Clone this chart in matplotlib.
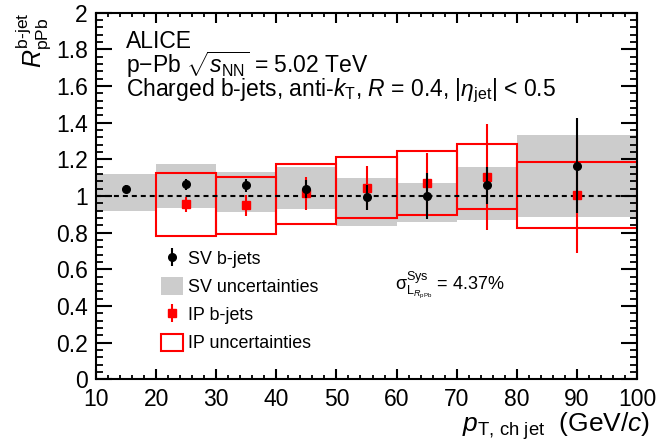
import numpy as np
import matplotlib
matplotlib.use("Agg")
import matplotlib.pyplot as plt
from matplotlib.patches import Patch
from matplotlib.ticker import MultipleLocator

plt.rcParams['font.family'] = ['Liberation Sans', 'DejaVu Sans']
plt.rcParams['mathtext.fontset'] = 'custom'
plt.rcParams['mathtext.rm'] = 'Liberation Sans'
plt.rcParams['mathtext.it'] = 'Liberation Sans:italic'
plt.rcParams['mathtext.bf'] = 'Liberation Sans:bold'

# pT bins (GeV/c)
sv_lo = [10, 20, 30, 40, 50, 60, 70, 80]
sv_hi = [20, 30, 40, 50, 60, 70, 80, 100]
sv_x = [15, 25, 35, 45, 55, 65, 75, 90]
sv_y = [1.040, 1.065, 1.058, 1.037, 0.993, 0.998, 1.058, 1.165]
sv_err = [0.022, 0.030, 0.035, 0.050, 0.067, 0.125, 0.100, 0.260]
sv_sys_lo = [0.919, 0.936, 0.914, 0.930, 0.836, 0.860, 0.869, 0.884]
sv_sys_hi = [1.120, 1.173, 1.129, 1.160, 1.100, 1.069, 1.160, 1.333]

ip_lo = [20, 30, 40, 50, 60, 70, 80]
ip_hi = [30, 40, 50, 60, 70, 80, 100]
ip_x = [25, 35, 45, 55, 65, 75, 90]
ip_y = [0.955, 0.949, 1.015, 1.042, 1.069, 1.104, 1.004]
ip_err = [0.040, 0.057, 0.090, 0.120, 0.165, 0.290, 0.315]
ip_sys_lo = [0.782, 0.793, 0.849, 0.878, 0.896, 0.929, 0.827]
ip_sys_hi = [1.124, 1.105, 1.173, 1.214, 1.245, 1.282, 1.186]

grey = '#cccccc'
red = '#ff0000'

fig = plt.figure(figsize=(6.59, 4.48), dpi=100)
ax = fig.add_axes([0.1457, 0.1533, 0.8209, 0.8184])

# SV systematic boxes
sv_w = np.array(sv_hi) - np.array(sv_lo)
ax.bar(sv_lo, np.array(sv_sys_hi) - np.array(sv_sys_lo), bottom=sv_sys_lo,
       width=sv_w, align='edge', color=grey, linewidth=0, zorder=1)

# IP systematic boxes
ip_w = np.array(ip_hi) - np.array(ip_lo)
ax.bar(ip_lo, np.array(ip_sys_hi) - np.array(ip_sys_lo), bottom=ip_sys_lo,
       width=ip_w, align='edge', facecolor='none', edgecolor=red,
       linewidth=1.5, zorder=2)

ax.axhline(1.0, color='k', lw=1.5, ls=(0, (2.4, 1.9)), zorder=3)

sv = ax.errorbar(sv_x, sv_y, yerr=sv_err, fmt='o', color='k', ms=5.5,
                 elinewidth=1.5, capsize=0, zorder=5)
ip = ax.errorbar(ip_x, ip_y, yerr=ip_err, fmt='s', color=red, ms=5.5,
                 elinewidth=1.5, capsize=0, zorder=4)

ax.set_xlim(10, 100)
ax.set_ylim(0, 2)
ax.xaxis.set_major_locator(MultipleLocator(10))
ax.xaxis.set_minor_locator(MultipleLocator(2))
ax.yaxis.set_major_locator(MultipleLocator(0.2))
ax.yaxis.set_minor_locator(MultipleLocator(0.04))
ax.yaxis.set_ticks(np.arange(0, 2.01, 0.2))
ax.set_yticklabels(['0', '0.2', '0.4', '0.6', '0.8', '1', '1.2', '1.4',
                    '1.6', '1.8', '2'])
for s in ax.spines.values():
    s.set_linewidth(1.5)
ax.tick_params(axis='both', which='both', direction='in', top=True,
               right=True, labelsize=16.5)
ax.tick_params(axis='x', which='major', length=7.5, width=1.5, pad=6)
ax.tick_params(axis='x', which='minor', length=3.2, width=1.3)
ax.tick_params(axis='y', which='major', length=11.5, width=1.5, pad=6)
ax.tick_params(axis='y', which='minor', length=5.3, width=1.3)

ax.set_xlabel(r'$p_{\mathrm{T,\,ch\ jet}}$  (GeV/$c$)', fontsize=19,
              loc='right')
ax.xaxis.set_label_coords(1.024, -0.084)
ax.set_ylabel(r'$R^{\text{b-jet}}_{\mathrm{pPb}}$', fontsize=18, loc='top',
              labelpad=2)

ax.text(0.056, 0.903, 'ALICE', transform=ax.transAxes, fontsize=16.5,
        va='baseline')
ax.text(0.056, 0.836, r'p$-$Pb $\sqrt{s_{\mathrm{NN}}}$ = 5.02 TeV',
        transform=ax.transAxes, fontsize=16.5, va='baseline')
ax.text(0.056, 0.772,
        r'Charged b-jets, anti-$k_{\mathrm{T}}$, $R$ = 0.4, $|\eta_{\mathrm{jet}}|$ < 0.5',
        transform=ax.transAxes, fontsize=16.5, va='baseline')
ax.text(0.553, 0.246,
        r'$\mathrm{\sigma}^{\mathrm{Sys}}_{\mathrm{L}_{R_{\mathrm{pPb}}}}$ = 4.37%',
        transform=ax.transAxes, fontsize=13, va='baseline')

handles = [sv, Patch(facecolor=grey, edgecolor='none'), ip,
           Patch(facecolor='white', edgecolor=red, linewidth=1.5)]
labels = ['SV b-jets', 'SV uncertainties', 'IP b-jets', 'IP uncertainties']
ax.legend(handles, labels, loc='upper left', bbox_to_anchor=(0.1196, 0.355),
          frameon=False, fontsize=12.9, borderpad=0, borderaxespad=0,
          handlelength=1.26, handleheight=1.12, handletextpad=0.28,
          labelspacing=0.52)

fig.savefig('out.png', dpi=100)
